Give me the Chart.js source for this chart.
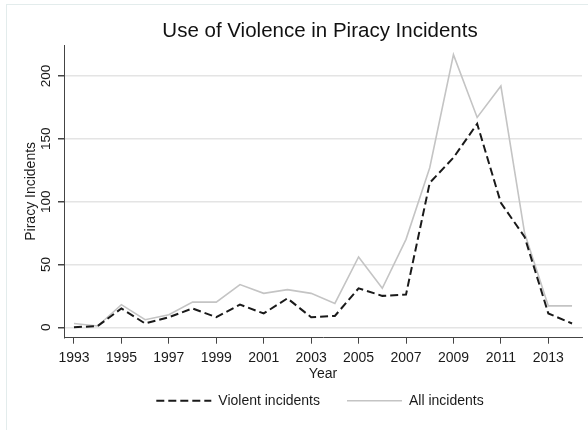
<!DOCTYPE html>
<html>
<head>
<meta charset="utf-8">
<title>Use of Violence in Piracy Incidents</title>
<script src="https://cdn.jsdelivr.net/npm/chart.js@4/dist/chart.umd.min.js"></script>
<style>
  html, body { margin: 0; padding: 0; background: #fff; }
  #wrap { width: 588px; height: 430px; }
</style>
</head>
<body>
<div id="wrap"><canvas id="myCanvas" width="588" height="430"></canvas></div>
<script>
const years = [1993,1994,1995,1996,1997,1998,1999,2000,2001,2002,2003,
               2004,2005,2006,2007,2008,2009,2010,2011,2012,2013,2014]
const violentIncidents = [0,1,15,3,8,15,8,18,11,23,8,9,31,25,26,115,135,162,99,72,11,3]
const allIncidents = [3,1,18,6,10,20,20,34,27,30,27,19,56,31,70,127,217,167,192,75,17,17]
const xTicks = [1993,1995,1997,1999,2001,2003,2005,2007,2009,2011,2013]
const yTicks = [0,50,100,150,200]

const fontFam = '"Liberation Sans", Arial, Helvetica, sans-serif'

// stata style: y labels turned on their side, plus the little frame round the graph
const stataBits = {
  id: 'stataBits',
  beforeDraw(chart){
    const ctx = chart.ctx
    ctx.save()
    ctx.strokeStyle = '#e3ecec'
    ctx.lineWidth = 1
    ctx.strokeRect(6.5, 4.5, 700, 600)
    ctx.restore()
  },
  afterDraw(chart){
    const ctx = chart.ctx
    const yScale = chart.scales.y
    const left = chart.chartArea.left
    ctx.save()
    ctx.fillStyle = '#1a1a1a'
    ctx.textAlign = 'center'
    ctx.textBaseline = 'middle'
    ctx.font = '13.5px ' + fontFam
    yTicks.forEach(v => {
      ctx.save()
      ctx.translate(left - 18, yScale.getPixelForValue(v))
      ctx.rotate(-Math.PI / 2)
      ctx.fillText(String(v), 0, 0)
      ctx.restore()
    })
    ctx.font = '14px ' + fontFam
    ctx.translate(left - 33, (chart.chartArea.top + chart.chartArea.bottom) / 2)
    ctx.rotate(-Math.PI / 2)
    ctx.fillText('Piracy Incidents', 0, 0)
    ctx.restore()
  }
}

const data = {
  datasets: [{
    label: 'Violent incidents',
    data: years.map((yr, i) => ({x: yr, y: violentIncidents[i]})),
    borderColor: '#1a1a1a',
    backgroundColor: '#1a1a1a',
    borderWidth: 2,
    borderDash: [8, 4],
    pointRadius: 0,
    tension: 0
  },{
    label: 'All incidents',
    data: years.map((yr, i) => ({x: yr, y: allIncidents[i]})),
    borderColor: '#c4c4c4',
    backgroundColor: '#c4c4c4',
    borderWidth: 1.6,
    pointRadius: 0,
    tension: 0
  }]
}

const config = {
  type: 'line',
  data: data,
  plugins: [stataBits],
  options: {
    responsive: false,
    animation: false,
    layout: { padding: { left: 58, right: 6, top: 0, bottom: 12.3 } },
    scales: {
      x: {
        type: 'linear',
        min: 1992.58,
        max: 2014.42,
        afterBuildTicks: s => { s.ticks = xTicks.map(v => ({value: v})) },
        afterFit: s => { s.height = 29 },
        ticks: {
          callback: v => String(v),
          color: '#1a1a1a',
          font: { size: 14, family: fontFam },
          padding: 6,
          maxRotation: 0,
          autoSkip: false
        },
        grid: { drawOnChartArea: false, drawTicks: true, tickLength: 6, tickColor: '#444', lineWidth: 1 },
        border: { display: true, color: '#444', width: 1 },
        title: {
          display: true,
          text: 'Year',
          color: '#1a1a1a',
          font: { size: 14, family: fontFam },
          padding: { top: 0, bottom: -15.7 }
        }
      },
      y: {
        min: -8.3,
        max: 224.7,
        afterBuildTicks: s => { s.ticks = yTicks.map(v => ({value: v})) },
        afterFit: s => { s.width = 6 },
        ticks: { display: false },
        grid: { color: '#e4e4e4', lineWidth: 1.5, drawTicks: true, tickLength: 6, tickColor: '#444' },
        border: { display: true, color: '#444', width: 1 }
      }
    },
    plugins: {
      title: {
        display: true,
        text: 'Use of Violence in Piracy Incidents',
        color: '#111',
        font: { size: 20.5, weight: 'normal', family: fontFam },
        padding: { top: 19, bottom: 1.4 }
      },
      legend: {
        position: 'bottom',
        labels: {
          usePointStyle: true,
          pointStyle: 'line',
          pointStyleWidth: 55,
          color: '#1a1a1a',
          font: { size: 14, family: fontFam },
          padding: 27,
          // line legend needs the dataset's own dash and width, not the point's
          generateLabels: chart => Chart.defaults.plugins.legend.labels.generateLabels(chart).map(item => {
            const ds = chart.data.datasets[item.datasetIndex]
            item.lineDash = ds.borderDash || []
            item.lineWidth = ds.borderWidth
            item.strokeStyle = ds.borderColor
            return item
          })
        }
      },
      tooltip: { enabled: false }
    }
  }
}

var myChart = new Chart(document.getElementById('myCanvas'), config)
</script>
</body>
</html>
